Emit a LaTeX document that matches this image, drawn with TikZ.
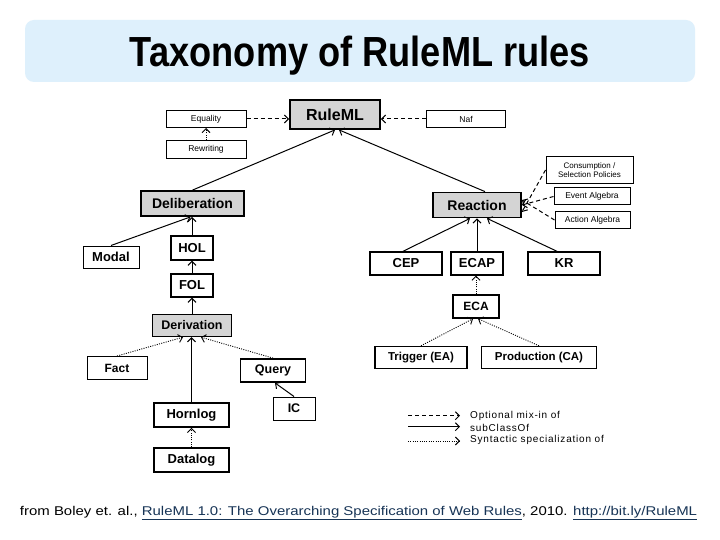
\documentclass[tikz,border=0pt]{standalone}
\usepackage{fontspec}
\usepackage{graphicx}
\setmainfont{Liberation Sans}
\usetikzlibrary{arrows.meta,calc}
\definecolor{titlebg}{RGB}{222,240,252}
\definecolor{boxgray}{RGB}{212,212,212}
\definecolor{linkc}{RGB}{23,52,86}
\tikzset{
  box/.style={draw, line width=1.4pt, inner sep=0pt, font=\fontsize{13}{15}\selectfont\bfseries},
  thinbox/.style={box, line width=1pt},
  graybox/.style={box, fill=boxgray, line width=1.8pt},
  smallbox/.style={draw, line width=1pt, inner sep=0pt, align=center, font=\fontsize{8.5}{9.5}\selectfont},
  tip/.style={-{Straight Barb[length=4pt,width=8pt]}},
  subc/.style={tip, line width=1pt},
  mixin/.style={tip, line width=1pt, dash pattern=on 4pt off 3pt},
  synt/.style={tip, line width=0.9pt, dash pattern=on 1pt off 1.3pt},
  legtext/.style={anchor=west, inner sep=0pt, font=\fontsize{10}{12}\selectfont\addfontfeature{LetterSpace=8}}
}
\begin{document}
\begin{tikzpicture}[x=1pt,y=-1pt]
\useasboundingbox (0,0) rectangle (720,540);
\fill[white] (0,0) rectangle (720,540);
% title
\fill[titlebg, rounded corners=9pt] (25,20) rectangle (695,82);
\node[anchor=base, inner sep=0pt] (title) at (360,66.7)
  {\resizebox{460pt}{30.5pt}{\fontsize{40}{48}\selectfont\bfseries Taxonomy of RuleML rules}};
% nodes
\node[graybox, minimum width=90pt, minimum height=29pt, font=\fontsize{16}{18}\selectfont\bfseries] (ruleml) at (335,114.5) {RuleML};
\node[smallbox, minimum width=80pt, minimum height=17pt] (equality) at (206,119) {Equality};
\node[smallbox, minimum width=80pt, minimum height=17.5pt] (rewriting) at (206,149.5) {Rewriting};
\node[smallbox, minimum width=79pt, minimum height=17pt] (nof) at (466,119) {Naf};
\node[graybox, minimum width=103pt, minimum height=25pt, font=\fontsize{14}{16}\selectfont\bfseries] (delib) at (192.5,203.5) {Deliberation};
\node[graybox, minimum width=88pt, minimum height=25pt, font=\fontsize{14}{16}\selectfont\bfseries] (reaction) at (477,205) {Reaction};
\node[smallbox, minimum width=87pt, minimum height=27pt, font=\fontsize{8}{9.5}\selectfont] (consum) at (589.5,170) {Consumption /\\Selection Policies};
\node[smallbox, minimum width=76pt, minimum height=17pt] (event) at (592,196.5) {Event Algebra};
\node[smallbox, minimum width=75pt, minimum height=17pt] (action) at (592.5,220) {Action Algebra};
\node[thinbox, minimum width=56pt, minimum height=22pt] (modal) at (111,257) {Modal};
\node[box, minimum width=42pt, minimum height=24pt] (hol) at (192,248) {HOL};
\node[box, minimum width=42pt, minimum height=23pt] (fol) at (192,285.5) {FOL};
\node[box, minimum width=72pt, minimum height=23pt] (cep) at (406,263.5) {CEP};
\node[box, minimum width=52pt, minimum height=23pt] (ecap) at (477,263.5) {ECAP};
\node[box, minimum width=72pt, minimum height=23pt] (kr) at (564,263.5) {KR};
\node[box, minimum width=46pt, minimum height=23pt, font=\fontsize{12}{14}\selectfont\bfseries] (eca) at (476,306.5) {ECA};
\node[graybox, line width=1.4pt, minimum width=79pt, minimum height=22pt, font=\fontsize{12.5}{14}\selectfont\bfseries] (deriv) at (192,325.5) {Derivation};
\node[thinbox, minimum width=60pt, minimum height=23pt, font=\fontsize{12}{14}\selectfont\bfseries] (fact) at (117,368) {Fact};
\node[box, line width=1.8pt, minimum width=65pt, minimum height=23pt, font=\fontsize{12.5}{14}\selectfont\bfseries] (query) at (273,370.5) {Query};
\node[thinbox, minimum width=42pt, minimum height=23pt, font=\fontsize{12.5}{14}\selectfont\bfseries] (ic) at (294,408.5) {IC};
\node[box, line width=1.8pt, minimum width=75pt, minimum height=24pt] (hornlog) at (191.5,415) {Hornlog};
\node[box, minimum width=75pt, minimum height=24pt] (datalog) at (191.5,460) {Datalog};
\node[box, minimum width=92pt, minimum height=22pt, font=\fontsize{11.5}{13}\selectfont\bfseries] (trigger) at (421,357.5) {Trigger (EA)};
\node[box, minimum width=115pt, minimum height=22pt, font=\fontsize{11.5}{13}\selectfont\bfseries] (product) at (539,357.5) {Production (CA)};
% connectors
\draw[synt] (rewriting.north) -- (equality.south);
\draw[mixin] (equality.east) -- (equality.east -| ruleml.west);
\draw[mixin] (nof.west) -- (nof.west -| ruleml.east);
\draw[subc] (delib.north) -- (ruleml.south);
\draw[subc] ([xshift=8pt]reaction.north) -- ([xshift=4pt]ruleml.south);
\draw[subc] (modal.north) -- ([xshift=-2pt]delib.south);
\draw[subc] (hol.north) -- (hol.north |- delib.south);
\draw[subc] (fol.north) -- (hol.south);
\draw[subc] (deriv.north) -- (fol.south);
\draw[synt] (fact.north) -- ([xshift=-9pt]deriv.south);
\draw[subc] (hornlog.north) -- (hornlog.north |- deriv.south);
\draw[synt] (query.north) -- ([xshift=9pt]deriv.south);
\draw[subc] (ic.north) -- ([xshift=2pt]query.south);
\draw[synt] (datalog.north) -- (hornlog.south);
\draw[subc] ([xshift=-3pt]cep.north) -- ([xshift=-7pt]reaction.south);
\draw[subc] (ecap.north) -- (reaction.south);
\draw[subc] ([xshift=-7pt]kr.north) -- ([xshift=10pt]reaction.south);
\draw[synt] (eca.north) -- (eca.north |- ecap.south);
\draw[synt] (trigger.north) -- ([xshift=-3pt]eca.south);
\draw[synt] (product.north) -- ([xshift=2pt]eca.south);
\draw[mixin] (consum.west) -- ([yshift=-7pt]reaction.east);
\draw[mixin] (event.west) -- (reaction.east);
\draw[mixin] (action.west) -- ([yshift=5pt]reaction.east);
% legend
\coordinate (l1a) at (408,415.7); \coordinate (l1b) at (460,415.7);
\coordinate (l2a) at (408,426.7); \coordinate (l2b) at (460,426.7);
\coordinate (l3a) at (408,441);   \coordinate (l3b) at (460,441);
\draw[mixin] (l1a) -- (l1b);
\draw[subc] (l2a) -- (l2b);
\draw[synt] (l3a) -- (l3b);
\node[legtext] (t1) at (470,415.7) {Optional mix-in of};
\node[legtext] (t2) at (470,427.7) {subClassOf};
\node[legtext] (t3) at (470,440) {Syntactic specialization of};
% footer
\node[anchor=base, inner sep=0pt] (footer) at (358.5,515)
  {\resizebox{677pt}{9.2pt}{\fontsize{12}{14}\selectfont from Boley et. al., \textcolor{linkc}{\underline{RuleML 1.0: The Overarching Specification of Web Rules}}, 2010. \textcolor{linkc}{\underline{http://bit.ly/RuleML}}}};
\end{tikzpicture}
\end{document}
